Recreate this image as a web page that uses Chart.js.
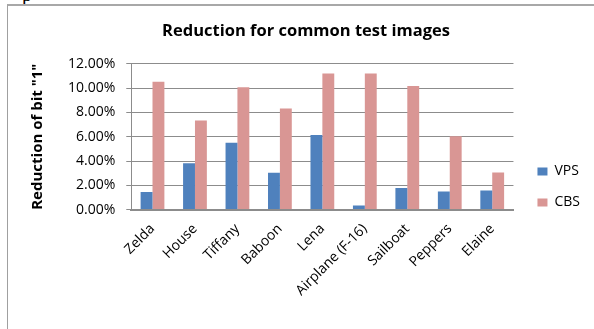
<!DOCTYPE html>
<html>
<head>
<meta charset="utf-8">
<script src="https://cdn.jsdelivr.net/npm/chart.js@4.4.0/dist/chart.umd.min.js"></script>
<style>
  html, body { margin: 0; padding: 0; background: #fff; }
  #wrap { position: relative; width: 594px; height: 329px; overflow: hidden; }
  #frame { position: absolute; left: 7px; top: 4px; width: 600px; height: 400px;
           border-left: 1px solid #a0a0a0; border-top: 2px solid #a8a8a8; }
  #stray { position: absolute; left: 22px; top: -17px; font: 20px "Liberation Serif"; color: #000; }
  canvas { position: absolute; left: 0; top: 0; }
</style>
</head>
<body>
<div id="wrap">
  <div id="stray">p</div>
  <div id="frame"></div>
  <canvas id="chart" width="594" height="329"></canvas>
</div>
<script>
// data
const images = ['Zelda', 'House', 'Tiffany', 'Baboon', 'Lena', 'Airplane (F-16)', 'Sailboat', 'Peppers', 'Elaine'];
const vps = [1.45, 3.82, 5.5, 3.03, 6.15, 0.33, 1.77, 1.5, 1.58];
const cbs = [10.52, 7.33, 10.06, 8.33, 11.2, 11.2, 10.18, 6.04, 3.06];
const yTicks = [0, 2, 4, 6, 8, 10, 12];

const gridGray = '#8c8c8c';

// nudge the legend down/right like the Excel original
const legendShift = {
    id: 'legendShift',
    afterLayout(chart) {
        const lg = chart.legend;
        if (!lg) return;
        lg.top += 36; lg.bottom += 36;
        lg.left += 7; lg.right += 7;
    }
};

const ctx = document.getElementById('chart').getContext('2d');
new Chart(ctx, {
    type: 'bar',
    data: {
        labels: images,
        datasets: [{
            label: 'VPS',
            data: vps,
            backgroundColor: '#4f81bd',
            borderWidth: 0,
            barPercentage: 1,
            categoryPercentage: 0.56,
        }, {
            label: 'CBS',
            data: cbs,
            backgroundColor: '#d99694',
            borderWidth: 0,
            barPercentage: 1,
            categoryPercentage: 0.56,
        }]
    },
    options: {
        responsive: false,
        animation: false,
        layout: {
            padding: { left: 29, right: 11, top: 0, bottom: 27 }
        },
        plugins: {
            title: {
                display: true,
                text: 'Reduction for common test images',
                color: '#000',
                font: { family: 'Open Sans', size: 16.5, weight: 'bold' },
                padding: { top: 21, bottom: 23 }
            },
            legend: {
                position: 'right',
                align: 'center',
                labels: {
                    color: '#000',
                    boxWidth: 10,
                    boxHeight: 8,
                    padding: 17,
                    font: { family: 'Open Sans', size: 14 }
                }
            },
            tooltip: { enabled: false }
        },
        scales: {
            x: {
                grid: { display: false },
                border: { color: gridGray, width: 2 },
                ticks: {
                    color: '#000',
                    minRotation: 45,
                    maxRotation: 45,
                    autoSkip: false,
                    font: { family: 'Open Sans', size: 14 }
                }
            },
            y: {
                min: 0,
                max: 12,
                afterBuildTicks: (axis) => {
                    axis.ticks = yTicks.map(v => ({ value: v }));
                },
                grid: { color: gridGray, tickLength: 5 },
                border: { color: gridGray, width: 1 },
                ticks: {
                    color: '#000',
                    padding: 11,
                    font: { family: 'Open Sans', size: 14 },
                    callback: (v) => v.toFixed(2) + '%'
                },
                title: {
                    display: true,
                    text: 'Reduction of bit "1"',
                    color: '#000',
                    font: { family: 'Open Sans', size: 15, weight: 'bold' },
                    padding: { top: 0, bottom: 10 }
                }
            }
        }
    },
    plugins: [legendShift]
});
</script>
</body>
</html>
